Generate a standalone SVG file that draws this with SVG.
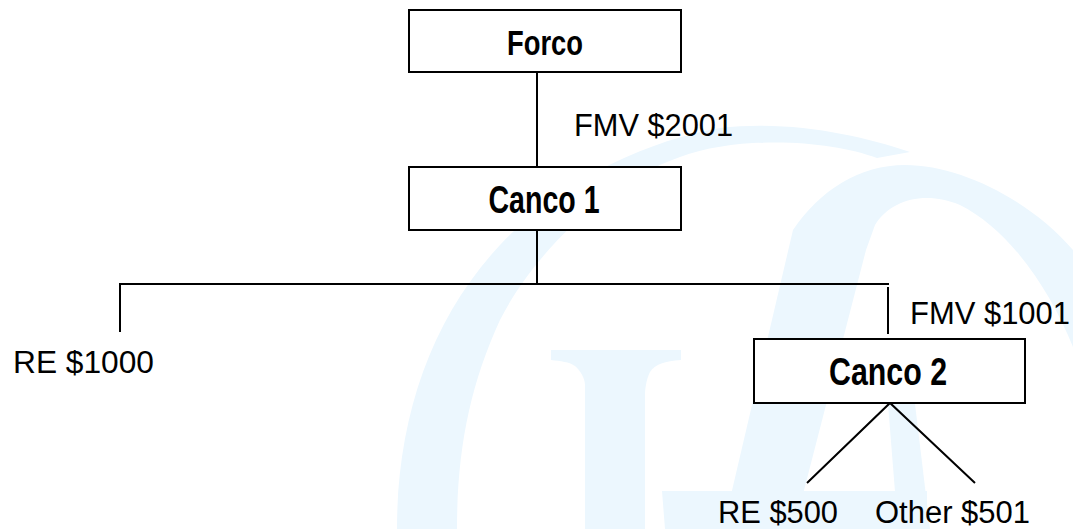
<svg xmlns="http://www.w3.org/2000/svg" width="1073" height="529" viewBox="0 0 1073 529">
<style>
.wm{fill:#ECF7FE;stroke:none}
.box{fill:#ffffff;stroke:#000000;stroke-width:2}
.ln{stroke:#000000;stroke-width:2;fill:none}
.lbl{font-family:"Liberation Sans",Arial,sans-serif;font-size:31px;fill:#000000}
.nm{font-family:"Liberation Sans Narrow","Liberation Sans",Arial,sans-serif;font-weight:bold;fill:#000000;text-anchor:middle}
</style>
<rect width="1073" height="529" fill="#ffffff"/>
<g id="watermark">
<path class="wm" d="M397,529 C397,420 430,320 500,245 C560,180 650,140 720,128 C790,120 860,135 910,152 L877,158 C830,140 740,135 680,157 C600,185 530,260 500,320 C470,385 457,450 457,529 Z"/>
<path class="wm" d="M551,350 L681,350 L681,360 C665,361 655,364 650,372 C646,380 645,390 645,395 L645,529 L585,529 L585,385 C585,378 580,370 575,366 C570,362 560,361 551,360 Z"/>
<path class="wm" d="M723,529 L793,230 C820,190 860,165 905,165 C960,165 1030,200 1073,250 L1073,347 C1050,290 1010,230 960,205 C925,190 890,200 875,225 L866,250 L794,529 Z"/>
<path class="wm" d="M662,491 L927,491 L927,529 L665,529 Z"/>
<path class="wm" d="M888,404 L915,404 L930,529 L898,529 Z"/>
</g>
<g id="connectors">
<line class="ln" x1="537" y1="72" x2="537" y2="167"/>
<line class="ln" x1="537" y1="230" x2="537" y2="284"/>
<line class="ln" x1="119" y1="284" x2="889" y2="284"/>
<line class="ln" x1="120" y1="284" x2="120" y2="332"/>
<line class="ln" x1="888" y1="287" x2="888" y2="334"/>
<polyline class="ln" points="807,483 890,403 975,483"/>
</g>
<g id="forco">
<rect class="box" x="409" y="10" width="272" height="62"/>
<text class="nm" x="545" y="55" font-size="35" textLength="76" lengthAdjust="spacingAndGlyphs">Forco</text>
</g>
<g id="canco1">
<rect class="box" x="409" y="167" width="272" height="63"/>
<text class="nm" x="544" y="213" font-size="39" textLength="111" lengthAdjust="spacingAndGlyphs">Canco 1</text>
</g>
<g id="canco2">
<rect class="box" x="754" y="339" width="271" height="64"/>
<text class="nm" x="888" y="385" font-size="39" textLength="118" lengthAdjust="spacingAndGlyphs">Canco 2</text>
</g>
<g id="labels">
<text class="lbl" x="574" y="136" textLength="159" lengthAdjust="spacingAndGlyphs">FMV $2001</text>
<text class="lbl" x="910" y="324" textLength="160" lengthAdjust="spacingAndGlyphs">FMV $1001</text>
<text class="lbl" x="13" y="373" textLength="141" lengthAdjust="spacingAndGlyphs">RE $1000</text>
<text class="lbl" x="718" y="523" textLength="120" lengthAdjust="spacingAndGlyphs">RE $500</text>
<text class="lbl" x="875" y="523" textLength="155" lengthAdjust="spacingAndGlyphs">Other $501</text>
</g>
</svg>
